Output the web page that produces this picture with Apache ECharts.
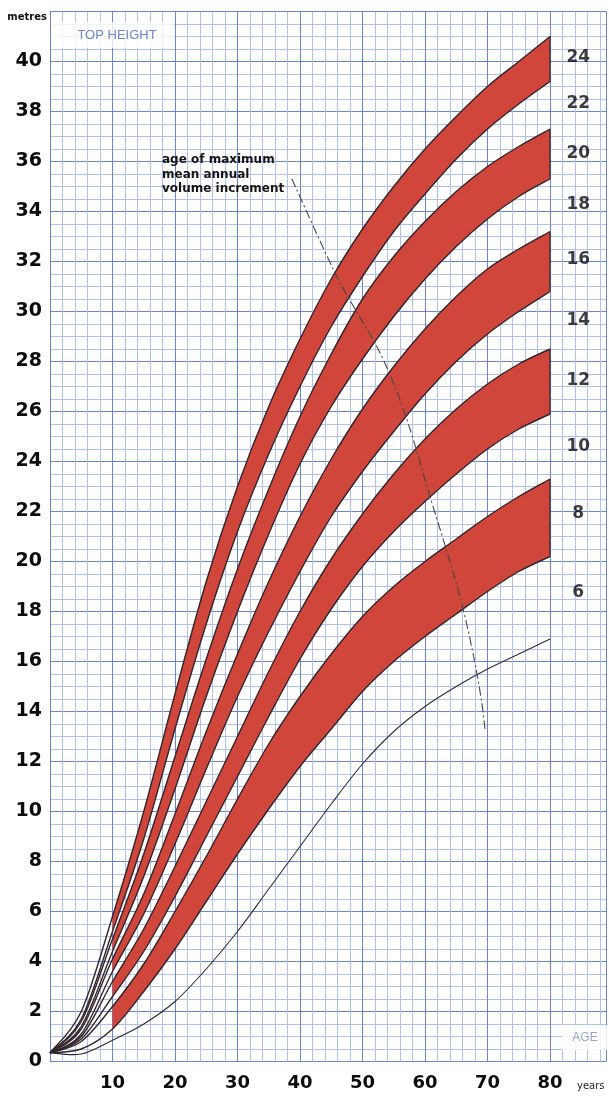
<!DOCTYPE html>
<html>
<head>
<meta charset="utf-8">
<script src="https://cdn.jsdelivr.net/npm/echarts@6/dist/echarts.min.js"></script>
<style>
  html, body { margin: 0; padding: 0; background: #ffffff; }
  #chart { width: 609px; height: 1097px; }
</style>
</head>
<body>
<div id="chart"></div>
<script>
// Stand age (years) at which each top-height curve is tabulated
const ageYears = [0, 5, 10, 15, 20, 25, 30, 35, 40, 45, 50, 55, 60, 65, 70, 75, 80];

// Top height (m) by yield class
const topHeightYC24 = [0.35, 2.0, 5.8, 10.0, 14.7, 19.2, 23.0, 26.2, 28.9, 31.3, 33.3, 35.0, 36.5, 37.8, 39.0, 40.0, 41.0];
const topHeightYC22 = [0.35, 1.7, 5.2, 8.9, 13.3, 17.5, 21.2, 24.3, 27.0, 29.4, 31.4, 33.2, 34.7, 36.1, 37.3, 38.3, 39.2];
const topHeightYC20 = [0.35, 1.6, 4.9, 8.3, 12.2, 16.1, 19.7, 22.9, 25.8, 28.3, 30.5, 32.2, 33.6, 34.8, 35.8, 36.6, 37.3];
const topHeightYC18 = [0.35, 1.4, 4.4, 7.4, 10.9, 14.6, 18.0, 21.1, 23.9, 26.2, 28.1, 29.8, 31.3, 32.6, 33.7, 34.6, 35.3];
const topHeightYC16 = [0.35, 1.3, 4.1, 6.7, 9.9, 13.2, 16.3, 19.2, 21.8, 24.1, 26.1, 27.8, 29.3, 30.6, 31.7, 32.5, 33.2];
const topHeightYC14 = [0.35, 1.1, 3.6, 5.9, 8.7, 11.7, 14.6, 17.2, 19.6, 21.8, 23.6, 25.2, 26.7, 28.0, 29.1, 30.0, 30.8];
const topHeightYC12 = [0.35, 1.0, 3.2, 5.3, 7.8, 10.4, 13.0, 15.6, 18.0, 20.1, 21.9, 23.5, 24.9, 26.1, 27.1, 27.9, 28.5];
const topHeightYC10 = [0.35, 0.9, 2.6, 4.4, 6.6, 9.0, 11.4, 13.8, 16.1, 18.1, 19.8, 21.2, 22.4, 23.5, 24.5, 25.3, 25.9];
const topHeightYC8  = [0.35, 0.8, 2.2, 3.9, 6.0, 8.2, 10.5, 12.7, 14.6, 16.3, 17.8, 19.0, 20.0, 20.9, 21.8, 22.6, 23.3];
const topHeightYC6  = [0.35, 0.5, 1.3, 2.8, 4.5, 6.4, 8.3, 10.1, 11.8, 13.3, 14.8, 16.0, 17.0, 17.9, 18.8, 19.6, 20.2];
const topHeightLowest = [0.35, 0.3, 0.85, 1.5, 2.4, 3.7, 5.2, 6.9, 8.6, 10.3, 11.9, 13.2, 14.2, 15.0, 15.7, 16.3, 16.9];

// Yield classes, top to bottom, and the pairs that bound each shaded band
const yieldClasses = [24, 22, 20, 18, 16, 14, 12, 10, 8, 6];
const classCurves = [topHeightYC24, topHeightYC22, topHeightYC20, topHeightYC18, topHeightYC16,
                     topHeightYC14, topHeightYC12, topHeightYC10, topHeightYC8, topHeightYC6];
const bandPairs = [[24, 22], [20, 18], [16, 14], [12, 10], [8, 6]];
const bandStartAge = 10;

// Age of maximum mean annual volume increment
const mmaiAge    = [38.7, 45.3, 48.8, 52.3, 55.5, 58.1, 60.8, 63.5, 65.9, 67.7, 69.0, 69.6];
const mmaiHeight = [35.3, 31.7, 30.1, 28.6, 26.8, 24.9, 22.6, 20.4, 18.3, 16.3, 14.5, 13.3];

// Axis tick labels
const ageTickLabels = [10, 20, 30, 40, 50, 60, 70, 80];
const heightTickLabels = [0, 2, 4, 6, 8, 10, 12, 14, 16, 18, 20, 22, 24, 26, 28, 30, 32, 34, 36, 38, 40];

const GRID_MAJOR = 'rgb(104,132,214)';
const GRID_MINOR = 'rgb(176,193,236)';
const BAND_RED = '#d0463b';
const EDGE = '#33252a';
const FONT = 'DejaVu Sans';

function curveOf(yc) { return classCurves[yieldClasses.indexOf(yc)]; }

// Catmull-Rom segments (as cubic Beziers) through pixel points, between indices [from, to]
function bezierSegments(pts, from, to) {
  const segs = [];
  for (let i = from; i < to; i++) {
    const p0 = pts[i - 1] || pts[i], p1 = pts[i], p2 = pts[i + 1], p3 = pts[i + 2] || pts[i + 1];
    segs.push({
      a: p1, b: p2,
      c1: [p1[0] + (p2[0] - p0[0]) / 6, p1[1] + (p2[1] - p0[1]) / 6],
      c2: [p2[0] - (p3[0] - p1[0]) / 6, p2[1] - (p3[1] - p1[1]) / 6]
    });
  }
  return segs;
}
function segsToPath(segs, moveFirst) {
  let d = moveFirst ? ('M' + segs[0].a[0] + ' ' + segs[0].a[1]) : ('L' + segs[0].a[0] + ' ' + segs[0].a[1]);
  segs.forEach(function (s) {
    d += ' C' + s.c1[0] + ' ' + s.c1[1] + ' ' + s.c2[0] + ' ' + s.c2[1] + ' ' + s.b[0] + ' ' + s.b[1];
  });
  return d;
}
function reverseSegs(segs) {
  return segs.slice().reverse().map(function (s) { return { a: s.b, b: s.a, c1: s.c2, c2: s.c1 }; });
}
function toPixels(api, xs, ys) {
  return xs.map(function (x, i) { return api.coord([x, ys[i]]); });
}

const series = [];
const startIdx = ageYears.indexOf(bandStartAge);

// Shaded bands between each pair of yield-class curves, closed at the right-hand end
bandPairs.forEach(function (pair) {
  const upper = curveOf(pair[0]);
  const lower = curveOf(pair[1]);
  series.push({
    type: 'custom', name: 'band ' + pair[1] + '-' + pair[0], coordinateSystem: 'cartesian2d',
    silent: true, z: 2, data: [[0, 0]],
    renderItem: function (params, api) {
      const up = toPixels(api, ageYears, upper);
      const lo = toPixels(api, ageYears, lower);
      const n = ageYears.length - 1;
      const d = segsToPath(bezierSegments(up, startIdx, n), true) + ' ' +
                segsToPath(reverseSegs(bezierSegments(lo, startIdx, n)), false) + ' Z';
      return {
        type: 'group', children: [
          { type: 'path', shape: { pathData: d }, style: { fill: BAND_RED, stroke: null } },
          { type: 'line', shape: { x1: up[n][0], y1: up[n][1], x2: lo[n][0], y2: lo[n][1] },
            style: { stroke: EDGE, lineWidth: 1.2 } }
        ]
      };
    }
  });
});

function curveSeries(name, xs, ys, style, z) {
  return {
    type: 'custom', name: name, coordinateSystem: 'cartesian2d', silent: true, z: z, data: [[0, 0]],
    renderItem: function (params, api) {
      const px = toPixels(api, xs, ys);
      const d = segsToPath(bezierSegments(px, 0, px.length - 1), true);
      return { type: 'path', shape: { pathData: d }, style: Object.assign({ fill: null }, style) };
    }
  };
}

// Each yield class curve drawn from the origin
classCurves.forEach(function (curve, i) {
  series.push(curveSeries('YC ' + yieldClasses[i], ageYears, curve, { stroke: EDGE, lineWidth: 1.4 }, 4));
});
series.push(curveSeries('lowest', ageYears, topHeightLowest, { stroke: '#2e2e2e', lineWidth: 1.1 }, 4));

// Age of maximum MAI
series.push(curveSeries('mmai', mmaiAge, mmaiHeight, { stroke: '#474747', lineWidth: 1.1, lineDash: [9, 3, 2, 3] }, 5));

// Yield class numbers at the right-hand end of the curves
const lastIdx = ageYears.length - 1;
series.push({
  type: 'scatter', name: 'yc-labels', silent: true, symbolSize: 1,
  itemStyle: { color: 'rgba(255,255,255,0)' },
  data: yieldClasses.map(function (yc, i) {
    return [84.6, classCurves[i][lastIdx] - (0.85 + 0.035 * (24 - yc)), yc];
  }),
  label: {
    show: true, position: [0, 0], align: 'center', verticalAlign: 'middle',
    formatter: function (p) { return p.value[2]; },
    fontFamily: FONT, fontWeight: 'bold', fontSize: 17, color: '#0d0d0d', textBorderWidth: 0
  },
  z: 6
});

const chart = echarts.init(document.getElementById('chart'), null, { renderer: 'canvas' });
chart.setOption({
  animation: false,
  backgroundColor: '#ffffff',
  grid: { left: 50, top: 11.5, width: 556.25, height: 1050, containLabel: false },
  xAxis: {
    type: 'value', min: 0, max: 89, interval: 10,
    axisLine: { show: false }, axisTick: { show: false },
    axisLabel: {
      margin: 13, fontFamily: FONT, fontWeight: 'bold', fontSize: 18, color: '#0d0d0d',
      showMaxLabel: false,
      formatter: function (v) { return ageTickLabels.indexOf(v) >= 0 ? String(v) : ''; }
    },
    splitLine: { show: true, lineStyle: { width: 1, color: GRID_MAJOR } },
    minorTick: { show: false, splitNumber: 5 },
    minorSplitLine: { show: true, lineStyle: { width: 1, color: GRID_MINOR } }
  },
  yAxis: {
    type: 'value', min: 0, max: 42, interval: 2,
    axisLine: { show: false }, axisTick: { show: false },
    axisLabel: {
      margin: 8, fontFamily: FONT, fontWeight: 'bold', fontSize: 19, color: '#0d0d0d',
      formatter: function (v) { return heightTickLabels.indexOf(v) >= 0 ? String(v) : ''; }
    },
    splitLine: { show: true, lineStyle: { width: 1, color: GRID_MAJOR } },
    minorTick: { show: false, splitNumber: 4 },
    minorSplitLine: { show: true, lineStyle: { width: 1, color: GRID_MINOR } }
  },
  graphic: [
    { type: 'rect', shape: { x: 51, y: 22, width: 123, height: 26 }, style: { fill: 'rgba(255,255,255,0.8)' }, z: 10 },
    { type: 'text', x: 117, y: 35, style: { text: 'TOP HEIGHT', fontFamily: 'Liberation Sans', fontSize: 13, fill: '#6f84c2', align: 'center', verticalAlign: 'middle' }, z: 11 },
    { type: 'rect', shape: { x: 562, y: 1025, width: 47, height: 25 }, style: { fill: 'rgba(255,255,255,0.85)' }, z: 10 },
    { type: 'text', x: 585, y: 1037.5, style: { text: 'AGE', fontFamily: 'Liberation Sans', fontSize: 12, fill: '#97a6cc', align: 'center', verticalAlign: 'middle' }, z: 11 },
    { type: 'text', x: 47, y: 17, style: { text: 'metres', fontFamily: FONT, fontSize: 10, fontWeight: 'bold', fill: '#111111', align: 'right', verticalAlign: 'middle' }, z: 11 },
    { type: 'text', x: 577, y: 1086, style: { text: 'years', fontFamily: FONT, fontSize: 10, fill: '#222222', align: 'left', verticalAlign: 'middle' }, z: 11 },
    { type: 'text', x: 162, y: 153, style: { text: 'age of maximum\nmean annual\nvolume increment', fontFamily: FONT, fontSize: 12, fontWeight: 'bold', lineHeight: 14.5, fill: '#161616', align: 'left', verticalAlign: 'top' }, z: 11 }
  ],
  series: series
});
</script>
</body>
</html>
